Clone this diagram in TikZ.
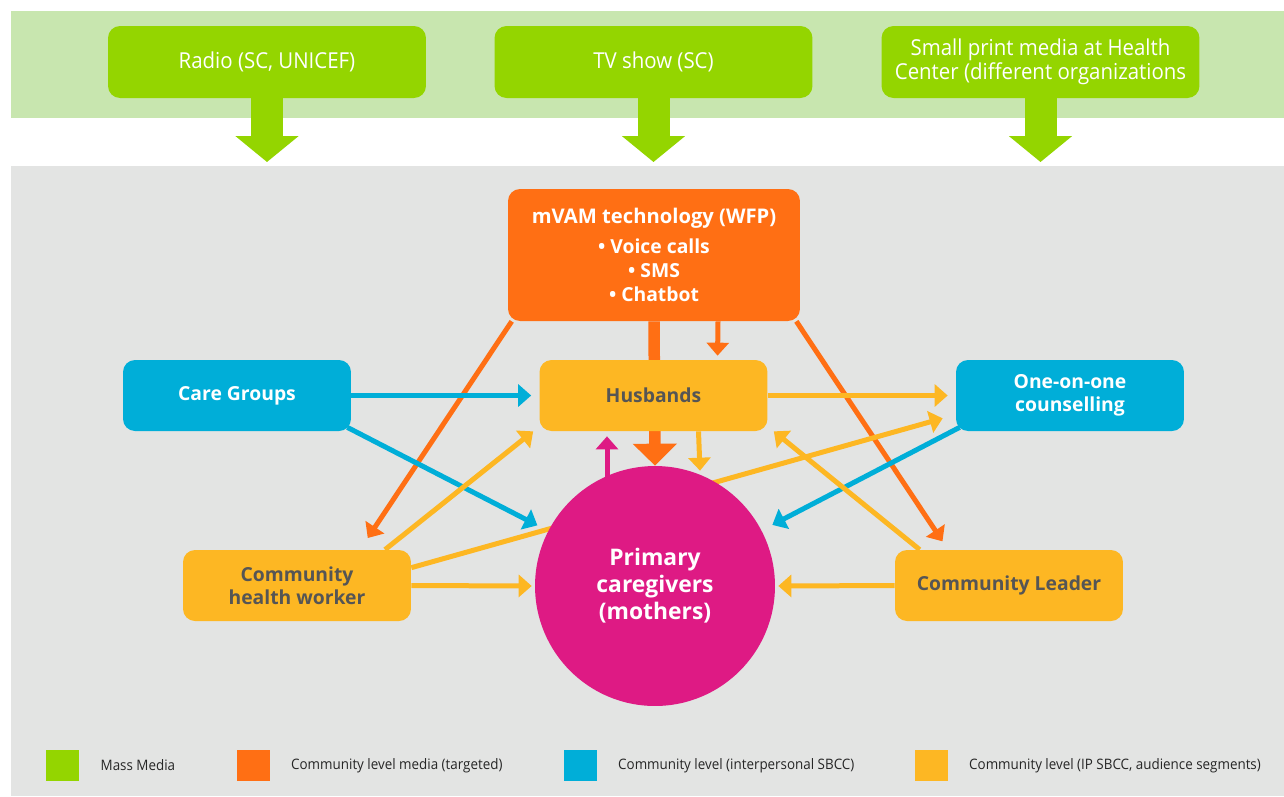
\documentclass[tikz,border=0pt]{standalone}
\usepackage{fontspec}
\setmainfont{Open Sans}
\newfontfamily\condfont{Open Sans}[FakeStretch=0.93]
\usetikzlibrary{arrows.meta,positioning,calc,backgrounds}
\pgfdeclarelayer{lines}
\pgfsetlayers{background,lines,main}

\definecolor{mmgreen}{RGB}{148,213,0}
\definecolor{bandgreen}{RGB}{200,230,175}
\definecolor{panelgray}{RGB}{227,228,227}
\definecolor{cmorange}{RGB}{255,111,20}
\definecolor{ipblue}{RGB}{0,174,216}
\definecolor{segyellow}{RGB}{253,183,35}
\definecolor{mothpink}{RGB}{222,26,132}
\definecolor{txtgray}{RGB}{85,85,85}

\tikzstyle{media} = [rectangle, rounded corners=0.24cm, minimum width=6.36cm, minimum height=1.44cm, align=center, draw=none, fill=mmgreen, text=white, font=\condfont\fontsize{12.5}{13.8}\selectfont]
\tikzstyle{ipbox} = [rectangle, rounded corners=0.24cm, minimum width=4.56cm, minimum height=1.42cm, align=center, draw=none, fill=ipblue, text=white, font=\bfseries\fontsize{11}{13}\selectfont]
\tikzstyle{segbox} = [ipbox, fill=segyellow, text=txtgray]
\tikzstyle{techbox} = [ipbox, fill=cmorange, minimum width=5.84cm, minimum height=2.64cm, font=\bfseries\fontsize{11}{13.6}\selectfont]
\tikzstyle{legkey} = [rectangle, draw=none, minimum width=0.66cm, minimum height=0.62cm, inner sep=0pt]
\tikzstyle{legtext} = [right=0.42cm of #1, inner sep=0pt, font=\condfont\fontsize{8.2}{9}\selectfont, text=black!85]
\tikzstyle{arrow} = [line width=0.1cm, -{Triangle[length=0.26cm,width=0.44cm]}]
\tikzstyle{fatgreen} = [line width=0.64cm, mmgreen, -{Triangle[length=0.52cm,width=1.24cm]}]
\tikzstyle{fatorange} = [line width=0.23cm, cmorange, -{Triangle[length=0.44cm,width=0.86cm]}]

\begin{document}
\begin{tikzpicture}[x=0.02cm, y=-0.02cm]
\useasboundingbox (0,0) rectangle (1284,796);

\begin{pgfonlayer}{background}
\fill[bandgreen] (11,11) rectangle (1284,118);
\fill[panelgray] (11,166) rectangle (1284,796);
\end{pgfonlayer}

% mass media
\node (radio) [media] at (267,62) {Radio (SC, UNICEF)};
\node (tv) [media] at (653.5,62) {TV show (SC)};
\node (print) [media] at (1040.5,62) {Small print media at Health\\Center (different organizations};
\coordinate (radioend) at (267,162);
\coordinate (tvend) at (653.5,162);
\coordinate (printend) at (1040.5,162);

% community level
\node (mvam) [techbox] at (654,255) {\fontsize{11.5}{13.6}\selectfont mVAM technology (WFP)\\[3.4pt]• Voice calls\\• SMS\\• Chatbot};
\node (husb) [segbox] at (653.5,395.5) {Husbands};
\node (care) [ipbox] at (237,395.5) {Care Groups};
\node (one) [ipbox] at (1070,395.5) {One-on-one\\counselling};
\node (chw) [segbox] at (297,585.5) {Community\\health worker};
\node (leader) [segbox] at (1009,585.5) {Community Leader};
\node (moth) [circle, fill=mothpink, minimum size=4.8cm, inner sep=0pt, align=center, text=white, font=\bfseries\fontsize{13}{15.4}\selectfont] at (655,586) {Primary\\caregivers\\(mothers)};

% legend
\node (key1) [legkey, fill=mmgreen] at (62.5,765.5) {};
\node (key2) [legkey, fill=cmorange] at (253,765.5) {};
\node (key3) [legkey, fill=ipblue] at (580,765.5) {};
\node (key4) [legkey, fill=segyellow] at (931,765.5) {};
\node (lab1) [legtext=key1] {Mass Media};
\node (lab2) [legtext=key2] {Community level media (targeted)};
\node (lab3) [legtext=key3] {Community level (interpersonal SBCC)};
\node (lab4) [legtext=key4] {Community level (IP SBCC, audience segments)};

%arrows
\begin{pgfonlayer}{lines}
\draw [fatgreen] (radio.south) -- (radioend);
\draw [fatgreen] (tv.south) -- (tvend);
\draw [fatgreen] (print.south) -- (printend);

\draw [fatorange] (mvam.south) -- (moth.north);
\draw [arrow, cmorange, shorten >=0.08cm] ($(mvam.south)+(64,0)$) -- ($(husb.north)+(64,0)$);
\draw [arrow, cmorange, shorten >=0.28cm] ($(mvam.south west)+(4,0)$) -- ($(chw.north)+(63,0)$);
\draw [arrow, cmorange, shorten >=0.2cm] ($(mvam.south east)+(-4,0)$) -- ($(leader.north)+(-61,0)$);

\draw [arrow, ipblue, shorten >=0.16cm] (care.east) -- (husb.west);
\draw [arrow, ipblue, shorten >=0.24cm] ($(care.south east)+(-4,-4)$) -- (moth);
\draw [arrow, ipblue, shorten >=0.24cm] ($(one.south west)+(4,-4)$) -- (moth);

\draw [arrow, segyellow, shorten >=0.16cm] (husb.east) -- (one.west);
\draw [arrow, segyellow] ($(husb.south)+(45,0)$) -- ($(moth.north)+(45,5)$);
\draw [arrow, mothpink, shorten >=0.1cm] ($(moth.center)+(-48,0)$) -- ($(husb.south)+(-46.5,0)$);

\draw [arrow, segyellow] ($(chw.north)+(88,0)$) -- ($(husb.south west)+(-6,0)$);
\draw [arrow, segyellow, shorten >=0.06cm] (chw.east) -- (moth.west);
\draw [arrow, segyellow] ($(chw.north east)+(0,18)$) -- ($(one.south west)+(-13,-13)$);
\draw [arrow, segyellow, shorten >=0.06cm] (leader.west) -- (moth.east);
\draw [arrow, segyellow] ($(leader.north west)+(25,0)$) -- ($(husb.south east)+(6,0)$);
\end{pgfonlayer}
\end{tikzpicture}
\end{document}
